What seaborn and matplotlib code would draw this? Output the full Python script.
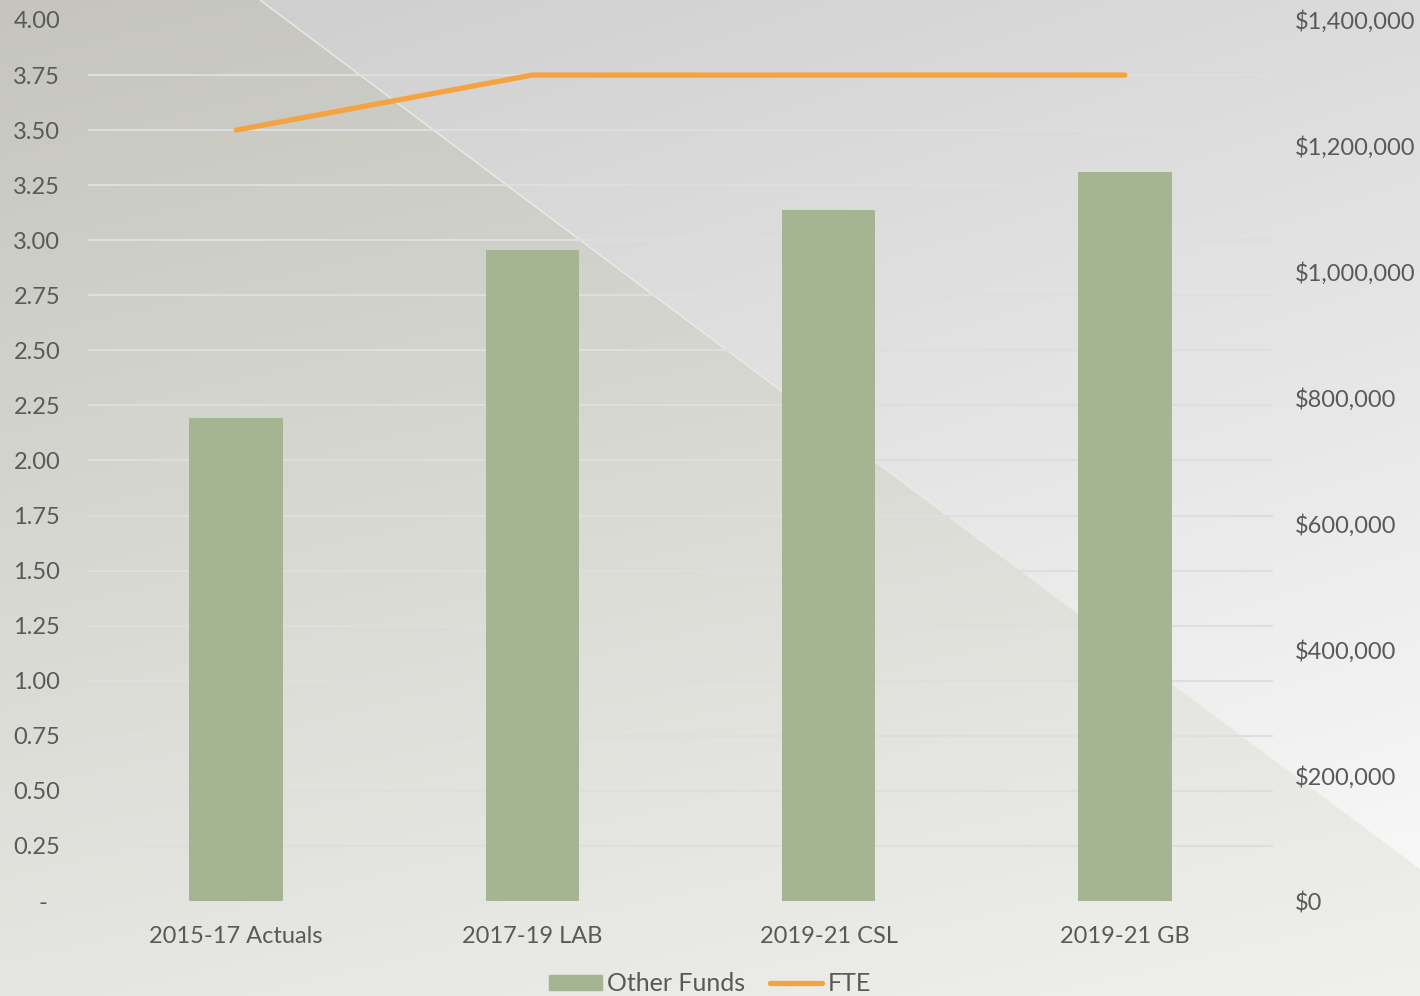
import matplotlib
matplotlib.use('Agg')
import matplotlib.pyplot as plt
import numpy as np
import seaborn as sns
from matplotlib.patches import Patch
from matplotlib.lines import Line2D
from matplotlib.ticker import FuncFormatter

# Data
periods = ['2015-17 Actuals', '2017-19 LAB', '2019-21 CSL', '2019-21 GB']
other_funds = [767000, 1034000, 1098000, 1158000]
fte = [3.50, 3.75, 3.75, 3.75]

sns.set_theme(style='white')
plt.rcParams['font.family'] = ['Lato', 'DejaVu Sans']
text_color = '#595959'
bar_color = '#A5B592'
line_color = '#F4A340'
fs = 17

fig = plt.figure(figsize=(14.2, 9.96), dpi=100)

# Background: gradient with diagonal split
W, H = 1420, 996
xx, yy = np.meshgrid(np.arange(W), np.arange(H))
# diagonal from (260, 0) to (1420, 870)
side = (yy - 0) * (1420 - 260) - (xx - 260) * 870
lower = side > 0
t_low = np.clip(0.75 * yy / H + 0.25 * xx / W, 0, 1)[..., None]
t_up = np.clip(0.75 * yy / H + 0.35 * (xx - 260) / W, 0, 1)[..., None]
c_low0 = np.array([197, 197, 190]) / 255
c_low1 = np.array([240, 240, 237]) / 255
c_up0 = np.array([207, 207, 207]) / 255
c_up1 = np.array([250, 250, 250]) / 255
img = np.where(lower[..., None], c_low0 + (c_low1 - c_low0) * t_low,
               c_up0 + (c_up1 - c_up0) * t_up)
bg = fig.add_axes([0, 0, 1, 1], zorder=-10)
bg.imshow(img, aspect='auto', extent=(0, W, H, 0))
bg.plot([260, 1420], [0, 870], color='#ecece0', lw=1)
bg.set_xlim(0, W)
bg.set_ylim(H, 0)
bg.axis('off')

# Main axes (bars, dollars on right)
ax = fig.add_axes([88 / W, 1 - 901 / H, (1273 - 88) / W, (901 - 20) / H])
ax.patch.set_alpha(0)
sns.barplot(x=periods, y=other_funds, ax=ax, color=bar_color, saturation=1,
            width=0.315, linewidth=0, edgecolor='none', zorder=3)
ax2 = ax.twinx()

ax.set_xlim(-0.5, 3.5)
ax.set_ylim(0, 1400000)
ax.yaxis.tick_right()
ax.set_yticks(np.arange(0, 1400001, 200000))
ax.yaxis.set_major_formatter(FuncFormatter(lambda v, p: f'${v:,.0f}'))
ax.set_yticks(np.arange(0, 1400001, 87500), minor=True)
ax.grid(False)
ax.grid(which='minor', axis='y', color='#dedede', lw=1.5, zorder=0)
ax.set_axisbelow(True)
for s in ax.spines.values():
    s.set_visible(False)
ax.tick_params(axis='y', which='both', length=0, pad=16, labelsize=fs,
               labelcolor=text_color, left=False, labelleft=False,
               right=False, labelright=True)
ax.tick_params(axis='x', length=0, pad=18, labelsize=fs, labelcolor=text_color)
ax.set_xlabel('')
ax.set_ylabel('')

# FTE line on twin axis, ticks on the left
sns.lineplot(x=np.arange(len(periods)), y=fte, ax=ax2, color=line_color,
             lw=3.8, solid_capstyle='round')
ax2.set_ylim(0, 4)
ax2.yaxis.tick_left()
ax2.set_yticks(np.arange(0, 4.01, 0.25))
ax2.yaxis.set_major_formatter(FuncFormatter(lambda v, p: '-  ' if v == 0 else f'{v:.2f}'))
ax2.tick_params(axis='y', length=0, pad=20, labelsize=fs, labelcolor=text_color,
                left=False, labelleft=True, right=False, labelright=False)
ax2.grid(False)
for s in ax2.spines.values():
    s.set_visible(False)
ax2.set_ylabel('')

handles = [Patch(color=bar_color, label='Other Funds'),
           Line2D([0], [0], color=line_color, lw=3.8, label='FTE')]
leg = fig.legend(handles=handles, loc='lower center', bbox_to_anchor=(0.5, -0.022),
                 ncol=2, frameon=False, fontsize=fs + 1, handlelength=2.1,
                 handleheight=0.5, handletextpad=0.2, columnspacing=1.0)
for t in leg.get_texts():
    t.set_color(text_color)

fig.savefig('out.png', dpi=100)
